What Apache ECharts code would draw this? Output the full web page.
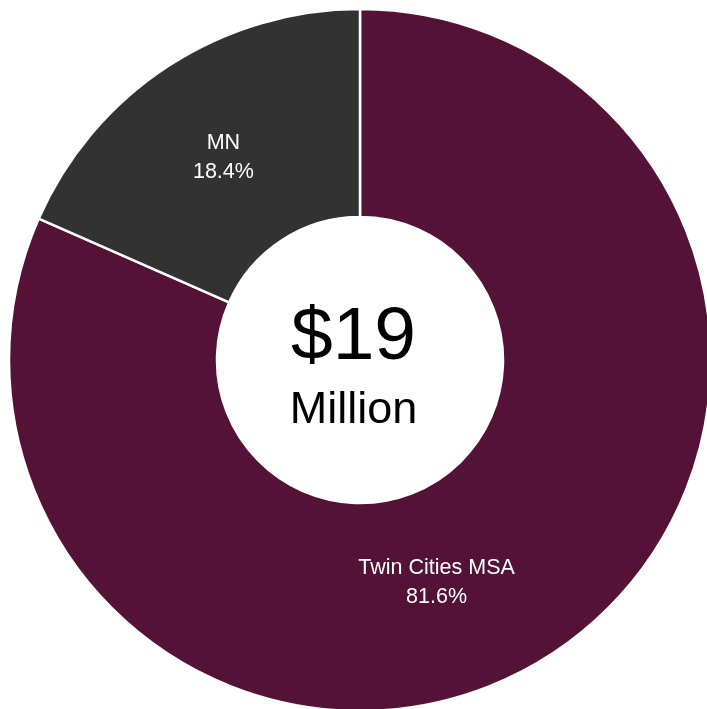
<!DOCTYPE html>
<html>
<head>
<meta charset="utf-8">
<style>
  html, body { margin: 0; padding: 0; background: #ffffff; }
  #chart { width: 707px; height: 709px; }
</style>
<script src="https://cdn.jsdelivr.net/npm/echarts@6/dist/echarts.min.js"></script>
</head>
<body>
<div id="chart"></div>
<script>
// Share of funding by region (percent of total)
const regions = ['Twin Cities MSA', 'MN'];
const shares = [81.6, 18.4];
const sliceColors = ['#541236', '#323232'];
const totalLabel = '$19';
const totalUnit = 'Million';

const chart = echarts.init(document.getElementById('chart'));

const labelFont = '"Liberation Sans", Arial, sans-serif';

chart.setOption({
  animation: false,
  series: [{
    type: 'pie',
    center: [360, 360],
    radius: [143, 351],
    startAngle: 90,
    clockwise: true,
    avoidLabelOverlap: false,
    itemStyle: { borderColor: '#ffffff', borderWidth: 2.5 },
    label: {
      show: true,
      position: 'inside',
      color: '#ffffff',
      fontFamily: labelFont,
      fontSize: 21.5,
      lineHeight: 29,
      align: 'center',
      formatter: p => p.name + '\n' + p.value.toFixed(1) + '%'
    },
    labelLine: { show: false },
    data: regions.map((name, i) => ({
      name,
      value: shares[i],
      itemStyle: { color: sliceColors[i] },
      label: i === 0
        ? { padding: [0, 120, 0, 0], offset: [0, 13] }
        : { offset: [0, 7] }
    }))
  }],
  graphic: [
    {
      type: 'text',
      left: 'center',
      top: 301,
      style: {
        text: totalLabel,
        font: '75px ' + labelFont,
        fill: '#000000',
        textAlign: 'center'
      }
    },
    {
      type: 'text',
      left: 'center',
      top: 388,
      style: {
        text: totalUnit,
        font: '45px ' + labelFont,
        fill: '#000000',
        textAlign: 'center'
      }
    }
  ]
});
</script>
</body>
</html>
